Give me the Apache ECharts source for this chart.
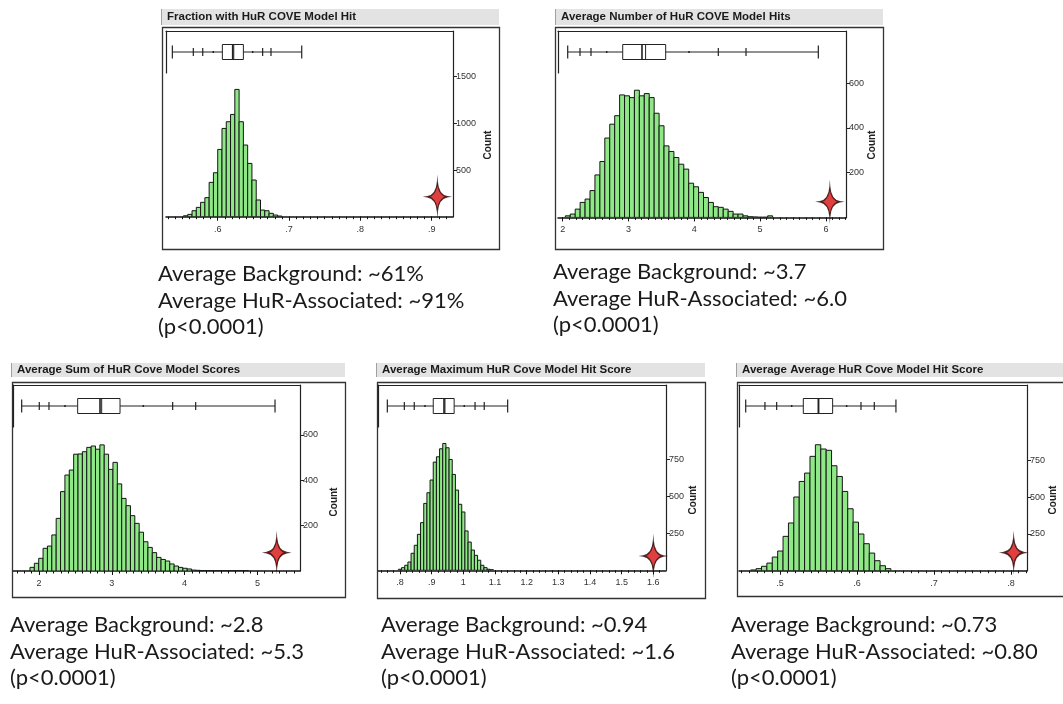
<!DOCTYPE html>
<html><head><meta charset="utf-8">
<script src="https://cdn.jsdelivr.net/npm/echarts@6/dist/echarts.min.js"></script>
<style>html,body{margin:0;padding:0;background:#fff}#c{width:1063px;height:704px}</style>
</head><body><div id="c"></div>
<script>
// ---------------- DATA ----------------
const titles = [
  'Fraction with HuR COVE Model Hit',
  'Average Number of HuR COVE Model Hits',
  'Average Sum of HuR Cove Model Scores',
  'Average Maximum HuR Cove Model Hit Score',
  'Average Average HuR Cove Model Hit Score'
];
const backgroundText = ['Average Background: ~61%','Average Background: ~3.7','Average Background: ~2.8','Average Background: ~0.94','Average Background: ~0.73'];
const hurText = ['Average HuR-Associated: ~91%','Average HuR-Associated: ~6.0','Average HuR-Associated: ~5.3','Average HuR-Associated: ~1.6','Average HuR-Associated: ~0.80'];
const pText = ['(p<0.0001)','(p<0.0001)','(p<0.0001)','(p<0.0001)','(p<0.0001)'];

// histogram bins: first bin start, bin width, counts
const binStart = [0.552, 2.04, 1.876, 0.795, 0.462];
const binWidth = [0.006, 0.075, 0.06, 0.01, 0.007];
const counts1 = [10,25,64,100,154,204,368,471,721,946,1018,1096,1364,1018,768,571,393,179,71,64,36,18,7];
const counts2 = [7,15,37,67,82,120,190,250,355,417,455,548,544,536,569,544,554,536,466,410,320,295,268,238,216,153,137,112,89,67,48,45,37,27,15,15,7,3,2,1,1,7];
const counts3 = [16,34,56,100,110,159,232,350,423,445,515,516,526,545,551,537,556,515,448,479,384,320,288,244,210,171,129,104,81,60,51,44,31,22,16,12,9,4,3,2,1,1,0,1,0,1,1,0,1,1];
const counts4 = [7,18,34,56,115,169,243,322,452,524,610,731,767,821,857,828,749,648,542,446,394,266,191,137,101,68,34,18,7,4];
const counts5 = [5,14,30,52,93,134,234,325,502,608,665,779,858,829,820,715,642,540,422,331,250,184,120,68,34,14];
const allCounts = [counts1, counts2, counts3, counts4, counts5];

// quantile box plots: [min, 0.5%, 2.5%, 10%, Q1, median, mean, Q3, 90%, 97.5%, 99.5%, max]
const box1 = [0.5364,0.5658,0.579,0.5938,0.6065,0.621,0.6225,0.636,0.649,0.663,0.6747,0.7178];
const box2 = [2.076,2.263,2.43,2.669,2.912,3.205,3.26,3.565,3.92,4.365,4.786,5.885];
const box3 = [1.762,2.004,2.137,2.357,2.531,2.838,2.861,3.113,3.433,3.836,4.152,5.242];
const box4 = [0.76,0.8137,0.845,0.879,0.905,0.939,0.942,0.971,1.003,1.037,1.066,1.14];
const box5 = [0.4555,0.4805,0.4957,0.5152,0.5303,0.5498,0.5505,0.5684,0.5866,0.6052,0.6225,0.6506];
const allBoxes = [box1, box2, box3, box4, box5];

// HuR-associated observed value (star): [x, y-in-count-units]
const stars = [[0.908,214],[6.06,70],[5.265,81],[1.6,97],[0.8035,123]];

// axis ranges and ticks
const xMin = [0.5275, 1.9286, 1.647, 0.7315, 0.4468];
const xMax = [0.9299, 6.3055, 5.585, 1.640, 0.8208];
const yMax = [1990, 834, 820, 1252, 1265];
const xTicks = [[0.6,0.7,0.8,0.9],[2,3,4,5,6],[2,3,4,5],[0.8,0.9,1,1.1,1.2,1.3,1.4,1.5,1.6],[0.5,0.6,0.7,0.8]];
const xTickLabels = [['.6','.7','.8','.9'],['2','3','4','5','6'],['2','3','4','5'],['.8','.9','1','1.1','1.2','1.3','1.4','1.5','1.6'],['.5','.6','.7','.8']];
const xMinorStep = [0.01, 0.1, 0.1, 0.02, 0.01];
const yTicks = [[500,1000,1500],[200,400,600],[200,400,600],[250,500,750],[250,500,750]];
const yTickLabels = [['500','1000','1500'],['200','400','600'],['200','400','600'],['250','500','750'],['250','500','750']];

// ---------------- LAYOUT ----------------
const L = [
  {frame:[162,27,499,249], bar:[161,9,25], inner:[166,31,287,185.7], count:[488,145], text:[158,285]},
  {frame:[555,27,883,249], bar:[555,9,25], inner:[558,31,288,186.4], count:[872,145], text:[553,283]},
  {frame:[12,382,345,597], bar:[11,363,377], inner:[13.3,385,286.7,186], count:[334,502], text:[10,636]},
  {frame:[377,382,705,598], bar:[376,363,377], inner:[378.3,385,287.7,185.3], count:[693,500], text:[381,636]},
  {frame:[737,382,1075,596], bar:[736,363,377], inner:[739,385,288,185.7], count:[1053,500], text:[731,636]}
];
const LINE_GAP = 26.5;

const grids = [], xAxes = [], yAxes = [], series = [], graphics = [];
const BAR_FILL = '#8fe886';

function barRender(params, api) {
  const p0 = api.coord([api.value(0), 0]);
  const p1 = api.coord([api.value(1), api.value(2)]);
  return {type:'rect', shape:{x:p0[0], y:p1[1], width:p1[0]-p0[0], height:p0[1]-p1[1]},
    style:{fill:BAR_FILL, stroke:'#151515', lineWidth:1}};
}
function boxRender(params, api) {
  const X = i => api.coord([api.value(i), 0.5])[0];
  const cy = api.coord([api.value(0), 0.5])[1];
  const ln = (x1,y1,x2,y2,w) => ({type:'line', shape:{x1,y1,x2,y2}, style:{stroke:'#222', lineWidth:w||1}});
  const ch = [];
  ch.push(ln(X(0), cy, X(11), cy, 1));
  ch.push(ln(X(0), cy-6.5, X(0), cy+6.5, 1.2));
  ch.push(ln(X(11), cy-6.5, X(11), cy+6.5, 1.2));
  [1,2,9,10].forEach(i => ch.push(ln(X(i), cy-4, X(i), cy+4, 1.2)));
  [3,8].forEach(i => ch.push(ln(X(i), cy-1, X(i), cy+1, 1.5)));
  ch.push({type:'rect', shape:{x:X(4), y:cy-7.5, width:X(7)-X(4), height:15}, style:{fill:'#fff', stroke:'#222', lineWidth:1}});
  ch.push(ln(X(5), cy-7.5, X(5), cy+7.5, 1.6));
  ch.push(ln(X(6), cy-7.5, X(6), cy+7.5, 1));
  return {type:'group', children:ch};
}

for (let p = 0; p < 5; p++) {
  const lay = L[p];
  const [gl, gt, gw, gh] = lay.inner;
  grids.push({left:gl, top:gt, width:gw, height:gh, containLabel:false});
  const hg = grids.length - 1;
  grids.push({left:gl, top:gt, width:gw, height:42, containLabel:false});
  const bg = grids.length - 1;

  const labMap = {};
  xTicks[p].forEach((v,i) => labMap[String(v)] = xTickLabels[p][i]);
  const minor = [];
  const st = xMinorStep[p];
  for (let k = Math.ceil(xMin[p]/st); k*st <= xMax[p]; k++) minor.push(+(k*st).toFixed(4));

  xAxes.push({type:'value', gridIndex:hg, min:xMin[p], max:xMax[p], position:'bottom',
    axisLine:{show:true, onZero:false, lineStyle:{color:'#111', width:1.5}},
    axisTick:{show:true, customValues:xTicks[p], length:4, lineStyle:{color:'#111'}},
    axisLabel:{show:true, customValues:xTicks[p], formatter:v => labMap[String(+v.toFixed(4))] || '', fontSize:9, color:'#333', margin:8, fontFamily:'Liberation Sans'},
    splitLine:{show:false}});
  const hx = xAxes.length - 1;
  xAxes.push({type:'value', gridIndex:hg, min:xMin[p], max:xMax[p], position:'bottom',
    axisLine:{show:false, onZero:false},
    axisTick:{show:true, customValues:minor, length:2.5, lineStyle:{color:'#111'}},
    axisLabel:{show:false}, splitLine:{show:false}});
  xAxes.push({type:'value', gridIndex:bg, min:xMin[p], max:xMax[p], position:'top',
    axisLine:{show:true, onZero:false, lineStyle:{color:'#222', width:1.2}},
    axisTick:{show:false}, axisLabel:{show:false}, splitLine:{show:false}});
  const bx = xAxes.length - 1;

  yAxes.push({type:'value', gridIndex:hg, min:0, max:yMax[p], position:'right',
    axisLine:{show:true, onZero:false, lineStyle:{color:'#222', width:1.2}},
    axisTick:{show:true, customValues:yTicks[p], length:4, lineStyle:{color:'#222'}},
    axisLabel:{show:true, customValues:yTicks[p], formatter:v => yTickLabels[p][yTicks[p].indexOf(v)] || '', fontSize:9, color:'#333', margin:3, fontFamily:'Liberation Sans'},
    splitLine:{show:false}});
  const hy = yAxes.length - 1;
  yAxes.push({type:'value', gridIndex:bg, min:0, max:1, position:'left',
    axisLine:{show:true, onZero:false, lineStyle:{color:'#222', width:1.2}},
    axisTick:{show:false}, axisLabel:{show:false}, splitLine:{show:false}});
  const by = yAxes.length - 1;

  const binData = allCounts[p].map((c,i) => [binStart[p] + i*binWidth[p], binStart[p] + (i+1)*binWidth[p], c]);
  series.push({type:'custom', xAxisIndex:hx, yAxisIndex:hy, renderItem:barRender, data:binData, encode:{x:[0,1], y:2}, clip:true, silent:true});
  series.push({type:'custom', xAxisIndex:bx, yAxisIndex:by, renderItem:boxRender, data:[allBoxes[p]], encode:{x:[0,11]}, silent:true});
  series.push({type:'scatter', xAxisIndex:hx, yAxisIndex:hy, data:[stars[p]],
    symbol:'path://M50,0 Q55,45 100,50 Q55,55 50,100 Q45,55 0,50 Q45,45 50,0 Z', symbolSize:[20,30],
    itemStyle:{color:'#d80f0f', borderColor:'#2a0000', borderWidth:1.3}, silent:true, z:5});

  const [fx0, fy0, fx1, fy1] = lay.frame;
  const [bx0, by0, by1] = lay.bar;
  graphics.push({type:'rect', shape:{x:bx0, y:by0, width:fx1-bx0, height:by1-by0}, style:{fill:'#e3e3e3'}, z:0});
  graphics.push({type:'line', shape:{x1:bx0+0.5, y1:by0, x2:bx0+0.5, y2:by1}, style:{stroke:'#a0a0a0', lineWidth:1}});
  graphics.push({type:'text', x:bx0+6, y:(by0+by1)/2, style:{text:titles[p], fontSize:11.5, fontWeight:'bold', fontFamily:'Liberation Sans', fill:'#1a1a1a', verticalAlign:'middle'}});
  graphics.push({type:'rect', shape:{x:fx0+0.5, y:fy0+0.5, width:fx1-fx0, height:fy1-fy0}, style:{fill:'none', stroke:'#333', lineWidth:1.3}});
  graphics.push({type:'text', x:lay.count[0], y:lay.count[1], rotation:Math.PI/2, style:{text:'Count', fontSize:10, fontWeight:'bold', fontFamily:'Liberation Sans', fill:'#222', align:'center', verticalAlign:'middle'}});
  const lines = [backgroundText[p], hurText[p], pText[p]];
  lines.forEach((t,i) => graphics.push({type:'text', x:lay.text[0], y:lay.text[1] + i*LINE_GAP, style:{text:t, fontSize:22, fontFamily:'Lato', fill:'#1a1a1a', verticalAlign:'bottom'}}));
}

const chart = echarts.init(document.getElementById('c'), null, {renderer:'canvas'});
chart.setOption({
  backgroundColor:'#ffffff', animation:false,
  grid:grids, xAxis:xAxes, yAxis:yAxes, series:series, graphic:graphics
});
</script></body></html>
